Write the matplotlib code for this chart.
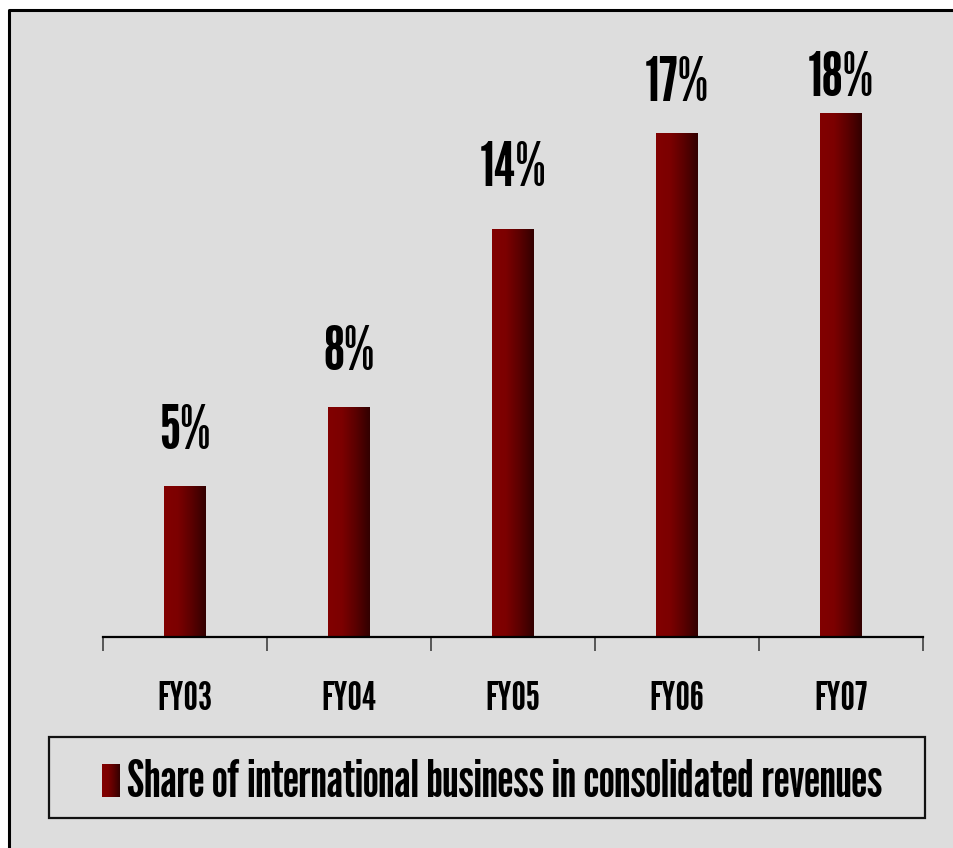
import numpy as np
import matplotlib
matplotlib.use("Agg")
import matplotlib.pyplot as plt
from matplotlib.colors import LinearSegmentedColormap
from matplotlib.patches import Rectangle
from matplotlib.lines import Line2D

# tall condensed lettering like the stretched Arial Narrow Bold of the source
plt.rcParams['font.family'] = ['League Gothic', 'DejaVu Sans']

categories = ['FY03', 'FY04', 'FY05', 'FY06', 'FY07']
share = [5.2, 7.9, 14.0, 17.3, 18.0]
legend_label = 'Share of international business in consolidated revenues'
label_gap_px = [37, 37, 43, 32, 17]  # gap between bar top and label baseline in the source

W, H = 954, 848
bg = '#dddddd'
grad = LinearSegmentedColormap.from_list('bar', ['#820000', '#7c0000', '#5a0000', '#320000'])

fig = plt.figure(figsize=(W / 100, H / 100), dpi=100, facecolor='white')

# grey panel, black frame only on left and top (cut off at right/bottom in the source)
fig.patches.append(Rectangle((9 / W, 0), 1, (H - 9) / H, transform=fig.transFigure,
                             facecolor=bg, edgecolor='none', zorder=-2))
fig.lines.append(Line2D([9.5 / W, 9.5 / W, 1.0], [0, (H - 9.5) / H, (H - 9.5) / H],
                        transform=fig.transFigure, color='black', lw=2.2, zorder=-1))

ax = fig.add_axes([103 / W, (H - 637) / H, 820 / W, 597 / H])
ax.set_facecolor('none')
x = np.arange(len(categories))
bars = ax.bar(x, share, width=0.256, facecolor='none', edgecolor='none')

g = np.linspace(0, 1, 256).reshape(1, -1)
for b in bars:
    x0, y0, w, h = b.get_x(), b.get_y(), b.get_width(), b.get_height()
    im = ax.imshow(g, cmap=grad, extent=[x0, x0 + w, y0, y0 + h], aspect='auto', zorder=2)
    im.set_clip_path(b)

for xi, v, gap in zip(x, share, label_gap_px):
    ax.annotate(f'{v:.0f}%', (xi, v), xytext=(0, gap * 0.72), textcoords='offset points',
                ha='center', va='baseline', fontsize=44)

ax.set_xlim(-0.5, len(categories) - 0.5)
ax.set_ylim(0, 20.5)
ax.set_yticks([])
for s in ['left', 'right', 'top']:
    ax.spines[s].set_visible(False)
ax.spines['bottom'].set_linewidth(1.6)
ax.spines['bottom'].set_zorder(3)

ax.set_xticks(x)
ax.set_xticklabels(categories, fontsize=29)
ax.tick_params(axis='x', which='major', length=0, pad=32)
ax.set_xticks(np.arange(len(categories) + 1) - 0.5, minor=True)
ax.tick_params(axis='x', which='minor', length=10, width=1.1, color='#333333', direction='out')

# legend box drawn by hand
fig.patches.append(Rectangle((49 / W, (H - 818) / H), 876 / W, 81 / H, transform=fig.transFigure,
                             facecolor='none', edgecolor='#111111', lw=1.6, zorder=1))
sax = fig.add_axes([102 / W, (H - 797) / H, 17 / W, 33 / H])
sax.imshow(g, cmap=grad, aspect='auto')
sax.axis('off')
fig.text(127 / W, (H - 797) / H, legend_label, fontsize=37, va='baseline', ha='left')

fig.savefig('out.png', dpi=100, facecolor='white')
